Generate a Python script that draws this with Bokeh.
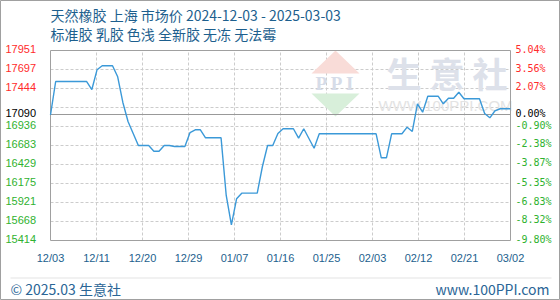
import numpy as np
import pandas as pd
from bokeh.plotting import figure
from bokeh.models import (Range1d, FixedTicker, Grid, Label, LabelSet, ColumnDataSource,
                          PolyAnnotation)
from bokeh.core.properties import value
from bokeh.embed import file_html
from bokeh.resources import INLINE

# ---------------- data ----------------
title_line1 = "天然橡胶 上海 市场价 2024-12-03 - 2025-03-03"
title_line2 = "标准胶 乳胶  色浅 全新胶 无冻 无法霉"
footer_left = "© 2025.03 生意社"
footer_right = "www.100PPI.com"
watermark_cn = "生 意 社"
watermark_en = "WWW.100PPI.COM"
watermark_logo = "P P I"

dates = pd.date_range("2024-12-03", "2025-03-02", freq="D")
prices = [
    17090,
    17537, 17537, 17537, 17537, 17537, 17537, 17537,
    17430,
    17693,
    17747, 17747, 17747,
    17600, 17257, 17003, 16843,
    16683, 16683, 16683,
    16606, 16606,
    16683, 16683,
    16669, 16669, 16669,
    16856,
    16892, 16892,
    16785, 16785, 16785, 16785,
    16015, 15624, 15971,
    16046, 16046, 16046, 16046,
    16402,
    16683, 16683,
    16843,
    16906, 16906, 16906,
    16780, 16906, 16776, 16646,
    16839, 16839, 16839, 16839, 16839, 16839, 16839, 16839, 16839, 16839, 16839, 16839,
    16518, 16518,
    16839, 16839, 16839,
    16927, 16870, 17239, 17127,
    17341, 17341, 17341,
    17239,
    17314, 17314,
    17394,
    17306, 17306, 17306, 17306,
    17110, 17052, 17146,
    17173, 17173, 17173,
]
assert len(prices) == len(dates)

base_price = 17090
y_min, y_max = 15414, 17951
left_tick_values = [17951, 17697, 17444, 17090, 16936, 16683, 16429, 16175, 15921, 15668, 15414]
right_tick_labels = ["5.04%", "3.56%", "2.07%", "0.00%", "-0.90%", "-2.38%", "-3.87%",
                     "-5.35%", "-6.83%", "-8.32%", "-9.80%"]
x_tick_labels = ["12/03", "12/11", "12/20", "12/29", "01/07", "01/16", "01/25",
                 "02/03", "02/12", "02/21", "03/02"]

# ---------------- layout (canvas pixels) ----------------
W, H = 560, 300
PL, PR, PT, PB = 50, 510, 50, 240   # plot-area box inside the canvas

def sx(X):
    return X

def sy(Y):
    return H - Y

RED, GREEN, BLACK = "#ff2b2b", "#2fb22f", "#000000"
BLUE_TXT = "#1d5f8e"
GRAY = "#a0a0a0"
CJK = "Noto Sans CJK SC"

t0 = dates[0].value / 1e6
t1 = dates[-1].value / 1e6
x_per_px = (t1 - t0) / (PR - PL)
y_per_px = (y_max - y_min) / (PB - PT)
x_range = Range1d(t0 - PL * x_per_px, t1 + (W - PR) * x_per_px)
y_range = Range1d(y_min - (H - PB) * y_per_px, y_max + PT * y_per_px)

p = figure(width=W, height=H, output_backend="svg", toolbar_location=None,
           x_axis_type=None, y_axis_type=None, x_range=x_range, y_range=y_range,
           min_border=0)
p.title = None
p.background_fill_color = "white"
p.border_fill_color = "white"
p.outline_line_color = GRAY
p.outline_line_width = 1

x_ticks = [t0 + (t1 - t0) * k / 10 for k in range(11)]
y_grid = list(np.linspace(y_min, y_max, 11))

p.add_layout(Grid(dimension=0, ticker=FixedTicker(ticks=x_ticks[1:-1]),
                  cross_bounds=(y_min, y_max), grid_line_color="#cccccc",
                  grid_line_dash="3 2", grid_line_width=1))
p.add_layout(Grid(dimension=1, ticker=FixedTicker(ticks=y_grid[1:-1]),
                  cross_bounds=(t0, t1), grid_line_color="#cccccc",
                  grid_line_dash="3 2", grid_line_width=1))

# ---------------- watermark ----------------
p.add_layout(PolyAnnotation(xs=[sx(311), sx(335), sx(359)], ys=[sy(73), sy(50), sy(73)],
                            xs_units="screen", ys_units="screen",
                            fill_color="#f9dcd8", fill_alpha=1, line_color=None, level="underlay"))
p.add_layout(PolyAnnotation(xs=[sx(311), sx(335), sx(359)], ys=[sy(93), sy(116), sy(93)],
                            xs_units="screen", ys_units="screen",
                            fill_color="#d8efda", fill_alpha=1, line_color=None, level="underlay"))
p.add_layout(Label(x=sx(335), y=sy(83), x_units="screen", y_units="screen", text=watermark_logo,
                   text_align="center", text_baseline="middle", text_font="Liberation Serif",
                   text_font_style="bold", text_font_size="19px", text_color="#d6dce8",
                   level="underlay"))
p.add_layout(Label(x=sx(386), y=sy(72), x_units="screen", y_units="screen", text=watermark_cn,
                   text_align="left", text_baseline="middle", text_font=CJK,
                   text_font_style="bold", text_font_size="35px", text_color="#dde1ea",
                   level="underlay"))
p.add_layout(Label(x=sx(445), y=sy(105), x_units="screen", y_units="screen", text=watermark_en,
                   text_align="center", text_baseline="middle", text_font="Liberation Sans",
                   text_font_size="15px", text_color="#e3e3e3", level="underlay"))

# ---------------- plot box, baseline, series ----------------
p.add_layout(Grid(dimension=1, ticker=FixedTicker(ticks=[base_price]), cross_bounds=(t0, t1),
                  grid_line_color="#999999", grid_line_width=1.2))
p.quad(left=[t0], right=[t1], bottom=[y_min], top=[y_max], fill_color=None,
       line_color=GRAY, line_width=1)
p.line(dates, prices, line_color="#3b99d8", line_width=1.4)

# ---------------- tick labels ----------------
tick_colors = [RED if v > base_price else (BLACK if v == base_price else GREEN)
               for v in left_tick_values]
tick_src = ColumnDataSource(dict(y=left_tick_values, left=[str(v) for v in left_tick_values],
                                 right=right_tick_labels, color=tick_colors))
p.add_layout(LabelSet(x=sx(5), y="y", x_units="screen", y_units="data", text="left",
                      source=tick_src, text_color="color", text_align="left",
                      text_baseline="middle", y_offset=1.5,
                      text_font=value("Liberation Sans"), text_font_size=value("11px")))
p.add_layout(LabelSet(x=sx(515), y="y", x_units="screen", y_units="data", text="right",
                      source=tick_src, text_color="color", text_align="left",
                      text_baseline="middle", y_offset=1.5,
                      text_font=value("DejaVu Sans Mono"), text_font_size=value("10px")))
xlab_src = ColumnDataSource(dict(x=x_ticks, text=x_tick_labels))
p.add_layout(LabelSet(x="x", y=sy(257), x_units="data", y_units="screen", text="text",
                      source=xlab_src, text_color=BLUE_TXT, text_align="center",
                      text_baseline="middle",
                      text_font=value("Liberation Sans"), text_font_size=value("11px")))

# ---------------- titles / footer ----------------
p.add_layout(Label(x=sx(50), y=sy(14.5), x_units="screen", y_units="screen", text=title_line1,
                   text_align="left", text_baseline="middle", text_font=CJK,
                   text_font_size="14px", text_color=BLUE_TXT))
p.add_layout(Label(x=sx(50), y=sy(33.5), x_units="screen", y_units="screen", text=title_line2,
                   text_align="left", text_baseline="middle", text_font=CJK,
                   text_font_size="14px", text_color=BLUE_TXT))
p.add_layout(Label(x=sx(10), y=sy(288), x_units="screen", y_units="screen", text=footer_left,
                   text_align="left", text_baseline="middle", text_font=CJK,
                   text_font_size="14px", text_color="#2a6596"))
p.add_layout(Label(x=sx(549), y=sy(288), x_units="screen", y_units="screen", text=footer_right,
                   text_align="right", text_baseline="middle", text_font=CJK,
                   text_font_size="14px", text_color="#2a6596"))
p.add_layout(PolyAnnotation(xs=[sx(10), sx(551)], ys=[sy(277.5), sy(277.5)],
                            xs_units="screen", ys_units="screen", fill_alpha=0,
                            line_color=GRAY, line_width=1))

open("out.html", "w").write(file_html(p, INLINE))
